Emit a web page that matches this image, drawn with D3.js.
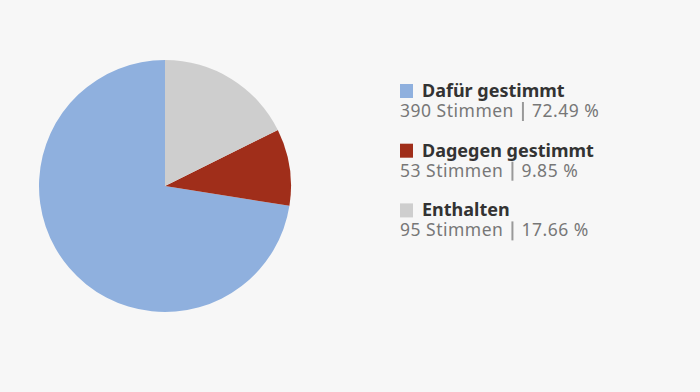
<!DOCTYPE html>
<html>
<head>
<meta charset="utf-8">
<script src="https://cdn.jsdelivr.net/npm/d3@7"></script>
<style>
  html, body { margin: 0; padding: 0; background: #f7f7f7; }
  svg { display: block; font-family: "Noto Sans", sans-serif; }
</style>
</head>
<body>
<svg id="chart" width="700" height="392"></svg>
<script>
var labels = ["Dafür gestimmt", "Dagegen gestimmt", "Enthalten"];
var votes = [390, 53, 95];
var percents = ["72.49 %", "9.85 %", "17.66 %"];
var colors = ["#8fb0de", "#a02e1a", "#cecece"];

var svg = d3.select("#chart");
var data = labels.map(function(l, i) {
    return { label: l, votes: votes[i], pct: percents[i], color: colors[i] };
});

// pie, counter-clockwise from 12 o'clock
var pie = d3.pie().sort(null).value(function(d) { return d.votes; })
    .startAngle(0).endAngle(-2 * Math.PI);
var arc = d3.arc().innerRadius(0).outerRadius(126);

svg.append("g")
    .attr("transform", "translate(165,186)")
    .selectAll("path")
    .data(pie(data))
    .enter().append("path")
    .attr("d", arc)
    .attr("fill", function(d) { return d.data.color; });

// legend
var legend = svg.append("g").attr("transform", "translate(400,97)");
var item = legend.selectAll("g.item")
    .data(data)
    .enter().append("g")
    .attr("class", "item")
    .attr("transform", function(d, i) { return "translate(0," + (i * 59.7) + ")"; });

item.append("rect")
    .attr("x", 0).attr("y", -13)
    .attr("width", 13).attr("height", 14)
    .attr("fill", function(d) { return d.color; });

item.each(function(d) {
    var g = d3.select(this);
    var txt = g.append("text");
    txt.append("tspan")
        .attr("x", 22).attr("y", 0)
        .attr("font-size", 18).attr("font-weight", "bold")
        .attr("fill", "#333")
        .text(d.label);
    var t1 = txt.append("tspan")
        .attr("x", 0).attr("y", 20)
        .attr("font-size", 17.5).attr("letter-spacing", 0.5)
        .attr("fill", "#777")
        .text(d.votes + " Stimmen");
    var w = t1.node().getComputedTextLength();
    txt.append("tspan")
        .attr("x", w + 18).attr("y", 20)
        .attr("font-size", 17.5).attr("letter-spacing", 0.5)
        .attr("fill", "#777")
        .text(d.pct);
    g.append("line")
        .attr("x1", w + 9).attr("x2", w + 9)
        .attr("y1", 5).attr("y2", 24)
        .attr("stroke", "#999").attr("stroke-width", 2);
});
</script>
</body>
</html>
